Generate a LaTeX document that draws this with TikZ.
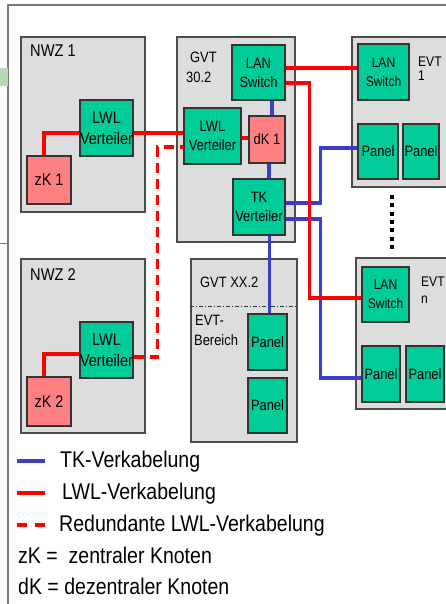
\documentclass[tikz,border=0pt]{standalone}
\usepackage{fontspec}
\setmainfont[FakeStretch=0.86]{Liberation Sans}
\usetikzlibrary{calc}
\definecolor{boxgray}{RGB}{221,221,221}
\definecolor{tealg}{RGB}{0,204,153}
\definecolor{salmon}{RGB}{255,128,128}
\definecolor{tkblue}{RGB}{60,60,205}
\definecolor{framegray}{RGB}{120,120,120}
\definecolor{artgreen}{RGB}{183,215,183}
\tikzset{
  area/.style={draw=black!70, line width=1.1pt, fill=boxgray, inner sep=0pt},
  gbox/.style={draw=black!80, line width=1.1pt, fill=tealg, inner sep=0pt, align=center,
     font=\fontsize{15}{19}\selectfont},
  kbox/.style={draw=black!80, line width=1.1pt, fill=salmon, inner sep=0pt, align=center,
     font=\fontsize{15}{19}\selectfont},
  lbl/.style={anchor=base west, inner sep=0pt, font=\fontsize{15}{18}\selectfont},
  tk/.style={draw=tkblue, line width=3.2pt},
  lwl/.style={draw=red, line width=3.2pt},
  lwlred/.style={draw=red, line width=3.6pt, dash pattern=on 10pt off 6pt},
  legtxt/.style={anchor=base west, inner sep=0pt, font=\fontsize{22.7}{26}\selectfont}
}
\begin{document}
\begin{tikzpicture}[x=1pt,y=-1pt]
\useasboundingbox (0,0) rectangle (446,604);
\clip (0,0) rectangle (446,604);
% outer frame and artefacts
\draw[framegray, line width=1.5pt] (8,604) -- (8,5) -- (450,5);
\fill[artgreen] (0,68) rectangle (8,86);
\draw[framegray, line width=1pt] (0,243) -- (8,243);

% gray areas
\node[area, minimum width=124pt, minimum height=175pt] (NWZ1) at (83,124.5) {};
\node[area, minimum width=118pt, minimum height=205pt] (GVT30) at (236,139.5) {};
\node[area, minimum width=108pt, minimum height=150pt] (EVT1) at (406,112) {};
\node[area, minimum width=124pt, minimum height=174pt] (NWZ2) at (83,346) {};
\node[area, minimum width=106pt, minimum height=183pt] (GVTXX) at (244,350.5) {};
\node[area, minimum width=104pt, minimum height=151pt] (EVTn) at (408,333.5) {};
\draw[black!80, line width=0.7pt, dash pattern=on 4pt off 2pt on 1pt off 2pt]
  ($(GVTXX.north west)+(0,48)$) -- ($(GVTXX.north east)+(0,48)$);

% area labels
\node[lbl, font=\fontsize{17}{19}\selectfont] (tNWZ1) at (30,57) {NWZ 1};
\node[lbl, font=\fontsize{17}{19}\selectfont] (tNWZ2) at (30,280) {NWZ 2};
\node[lbl] (tGVT) at (190,63) {GVT};
\node[lbl] (tGVTn) at (186,83) {30.2};
\node[lbl, font=\fontsize{14}{16}\selectfont] (tEVT1) at (418,67) {EVT};
\node[lbl, font=\fontsize{14}{16}\selectfont] (tEVT1n) at (418,81) {1};
\node[lbl, font=\fontsize{14}{16}\selectfont] (tEVTn) at (421,286) {EVT};
\node[lbl, font=\fontsize{14}{16}\selectfont] (tEVTnn) at (421,303) {n};
\node[lbl] (tGVTXX) at (200,287) {GVT XX.2};
\node[lbl] (tEVTB1) at (195,325) {EVT-};
\node[lbl] (tEVTB2) at (194,345) {Bereich};

% equipment
\node[gbox, minimum width=53pt, minimum height=56pt, font=\fontsize{16.8}{21}\selectfont] (LWL1) at (106.5,128) {LWL\\Verteiler};
\node[kbox, minimum width=44pt, minimum height=48pt, font=\fontsize{16.8}{19}\selectfont] (zK1) at (49,180) {zK 1};
\node[gbox, minimum width=53pt, minimum height=56pt, font=\fontsize{16.8}{21}\selectfont] (LWL2) at (106.5,350) {LWL\\Verteiler};
\node[kbox, minimum width=44pt, minimum height=49pt, font=\fontsize{16.8}{19}\selectfont] (zK2) at (49,401.5) {zK 2};

\node[gbox, minimum width=53pt, minimum height=55pt] (LAN0) at (258.5,72.5) {LAN\\Switch};
\node[gbox, minimum width=57pt, minimum height=56pt] (LWLg) at (212.5,136) {LWL\\Verteiler};
\node[kbox, minimum width=36pt, minimum height=47pt] (dK1) at (267,139.5) {dK 1};
\node[gbox, minimum width=52pt, minimum height=56pt] (TK) at (259,207) {TK\\Verteiler};

\node[gbox, minimum width=39pt, minimum height=56pt] (PX1) at (267.5,342) {Panel};
\node[gbox, minimum width=39pt, minimum height=55pt] (PX2) at (267.5,405.5) {Panel};

\node[gbox, minimum width=51pt, minimum height=56pt, font=\fontsize{14}{19}\selectfont] (LAN1) at (383.5,72) {LAN\\Switch};
\node[gbox, minimum width=40pt, minimum height=55pt] (P11) at (378,151.5) {Panel};
\node[gbox, minimum width=36pt, minimum height=55pt] (P12) at (421,151.5) {Panel};

\node[gbox, minimum width=47pt, minimum height=55pt, font=\fontsize{14}{19}\selectfont] (LANn) at (385.5,294.5) {LAN\\Switch};
\node[gbox, minimum width=38pt, minimum height=56pt] (Pn1) at (381,374) {Panel};
\node[gbox, minimum width=38pt, minimum height=56pt] (Pn2) at (425,374) {Panel};

% TK cabling (blue)
\draw[tk] ($(dK1.north)+(5,0)$) coordinate (b1) -- (b1 |- LAN0.south);
\draw[tk] ($(dK1.south)+(2,0)$) coordinate (b2) -- (b2 |- TK.north);
\draw[tk] ($(PX1.north)+(2,0)$) coordinate (b3) -- (b3 |- TK.south);
\draw[tk] ($(TK.east)+(0,-4)$) -| ($(P11.west)+(-37,-3.5)$) -- ($(P11.west)+(0,-3.5)$);
\draw[tk] ($(TK.east)+(0,12)$) -| ($(Pn1.west)+(-41,4)$) -- ($(Pn1.west)+(0,4)$);

% LWL cabling (red)
\draw[lwl] ($(zK1.north)+(-5,0)$) |- ($(LWL1.west)+(0,5)$);
\draw[lwl] ($(LWL1.east)+(0,5)$) coordinate (r1) -- (r1 -| LWLg.west);
\draw[lwl] ($(LWLg.east)+(0,2)$) coordinate (r2) -- (r2 -| dK1.west);
\draw[lwl] ($(LAN0.east)+(0,-4.5)$) coordinate (r3) -- (r3 -| LAN1.west);
\draw[lwl] ($(LAN0.east)+(0,10.5)$) -| ($(LANn.west)+(-52,3.5)$) -- ($(LANn.west)+(0,3.5)$);
\draw[lwl] ($(zK2.north)+(-5,0)$) |- ($(LWL2.west)+(0,4)$);
\draw[lwlred] ($(LWL2.east)+(0,7)$) -| ($(LWLg.west)+(-26,11)$) -- ($(LWLg.west)+(0,11)$);

% ellipsis between EVT 1 and EVT n
\draw[black, line width=4pt, dash pattern=on 4pt off 4.3pt] (392,195) -- (392,251);

% legend
\coordinate (l1a) at (17,461); \coordinate (l1b) at (45,461);
\coordinate (l2a) at (17,493); \coordinate (l2b) at (45,493);
\coordinate (l3a) at (17,525); \coordinate (l3b) at (45,525);
\draw[tk] (l1a) -- (l1b);
\draw[lwl] (l2a) -- (l2b);
\draw[draw=red, line width=3.2pt, dash pattern=on 10pt off 8pt] (l3a) -- (l3b);
\node[legtxt] (g1) at (60,467) {TK-Verkabelung};
\node[legtxt] (g2) at (62,499) {LWL-Verkabelung};
\node[legtxt] (g3) at (59,531) {Redundante LWL-Verkabelung};
\node[legtxt] (g4) at (18,563) {zK =~ zentraler Knoten};
\node[legtxt] (g5) at (18,594) {dK = dezentraler Knoten};
\end{tikzpicture}
\end{document}
